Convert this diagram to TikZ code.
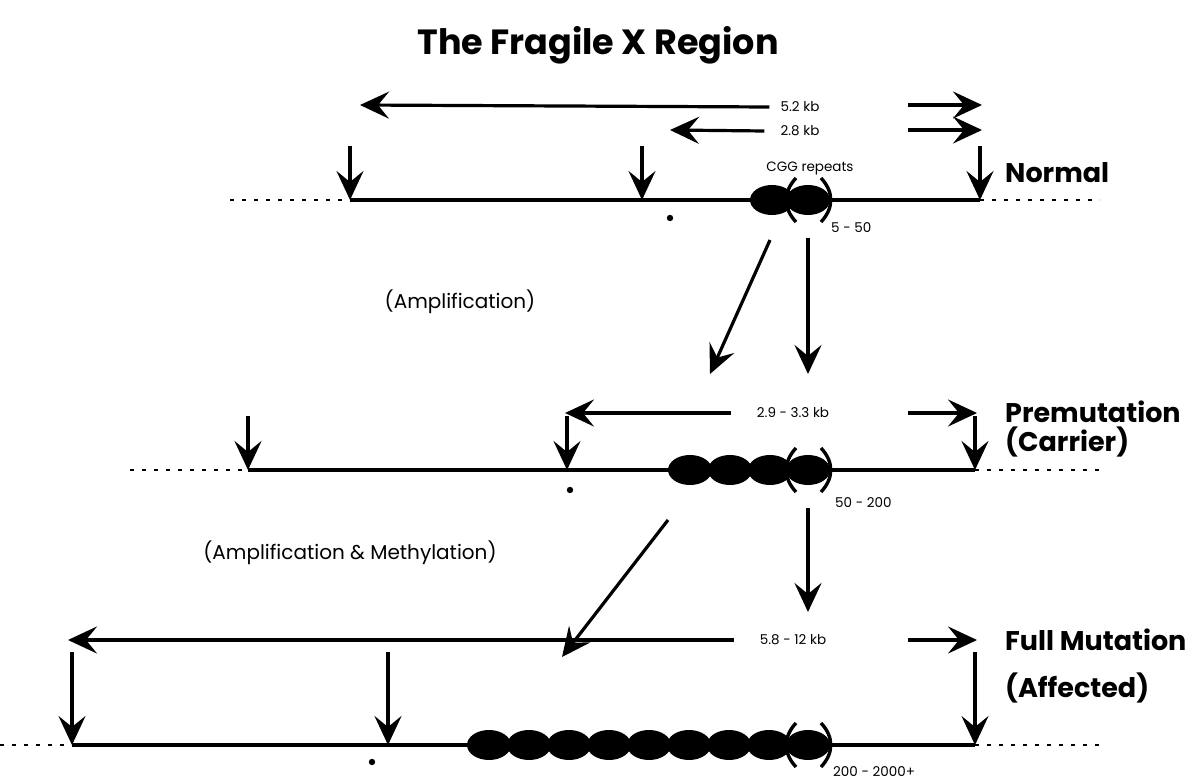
\documentclass[tikz,border=0pt]{standalone}
\usepackage{fontspec}
\setmainfont{Poppins}
\usetikzlibrary{arrows.meta}
\begin{document}
\begin{tikzpicture}[x=1pt,y=-1pt,
  dna/.style={line width=3.2pt},
  dots/.style={line width=2.8pt, dash pattern=on 4pt off 8pt},
  arr/.style={line width=3.2pt,-{Stealth[length=29pt,width=27pt,inset=11pt]}},
  oval/.style={fill=black},
  paren/.style={line width=3.4pt},
  kb/.style={font=\fontsize{13.5}{15}\selectfont, inner sep=1pt},
  stage/.style={font=\fontsize{27}{30}\selectfont\bfseries, anchor=west, inner sep=0pt},
  proc/.style={font=\fontsize{20}{24}\selectfont, inner sep=1pt},
  title/.style={font=\fontsize{35}{40}\selectfont\bfseries, inner sep=0pt}
]
\useasboundingbox (0,0) rectangle (1192,781);
\fill[white] (0,0) rectangle (1192,781);

\node[title] (ttl) at (598,45) {The Fragile X Region};

% ---------------- Row 1: Normal ----------------
\coordinate (r1L) at (230,200); \coordinate (r1a) at (350,200);
\coordinate (r1m) at (642,200); \coordinate (r1b) at (980,200);
\coordinate (r1R) at (1100,200);
\draw[dots] (r1L) -- (r1a);
\draw[dna] (r1a) -- (r1b);
\draw[dots] (r1b) -- (r1R);
\foreach \cx in {772,808} \fill[oval] (\cx,200) ellipse (22 and 15);
\draw[paren] (796,178) .. controls (783,192) and (783,208) .. (796,222);
\draw[paren] (821,178) .. controls (834,192) and (834,208) .. (821,222);
\coordinate (d1a) at (350,146); \coordinate (d1m) at (642,146); \coordinate (d1b) at (980,146);
\draw[arr] (d1a) -- (r1a);
\draw[arr] (d1m) -- (r1m);
\draw[arr] (d1b) -- (r1b);
\fill (670,218) circle (3.2);
\node[kb] (k52) at (800,107) {5.2 kb};
\node[kb] (k28) at (800,131) {2.8 kb};
\node[kb] (cgg) at (810,168) {CGG repeats};
\node[kb,anchor=west] (n1) at (830,228) {5 - 50};
\coordinate (a1L) at (360,105); \coordinate (a1s) at (908,105); \coordinate (a1R) at (982,105);
\coordinate (a2L) at (670,130); \coordinate (a2s) at (908,130); \coordinate (a2R) at (982,130);
\draw[arr] ([xshift=-10pt]k52.west) -- (a1L);
\draw[arr] (a1s) -- (a1R);
\draw[arr] ([xshift=-15pt]k28.west) -- (a2L);
\draw[arr] (a2s) -- (a2R);
\node[stage] (normal) at (1005,173) {Normal};

% transitions 1
\coordinate (t1s) at (770,240); \coordinate (t1e) at (710,374);
\coordinate (v1s) at (808,238); \coordinate (v1e) at (808,374);
\draw[arr] (t1s) -- (t1e);
\draw[arr] (v1s) -- (v1e);
\node[proc] (amp1) at (460,302) {(Amplification)};

% ---------------- Row 2: Premutation ----------------
\coordinate (r2L) at (130,470); \coordinate (r2a) at (248,470);
\coordinate (r2m) at (567,470); \coordinate (r2b) at (975,470);
\coordinate (r2R) at (1100,470);
\draw[dots] (r2L) -- (r2a);
\draw[dna] (r2a) -- (r2b);
\draw[dots] (r2b) -- (r2R);
\foreach \cx in {690,730,770,808} \fill[oval] (\cx,470) ellipse (22 and 15);
\draw[paren] (796,448) .. controls (783,462) and (783,478) .. (796,492);
\draw[paren] (821,448) .. controls (834,462) and (834,478) .. (821,492);
\coordinate (d2a) at (248,416); \coordinate (d2m) at (567,416); \coordinate (d2b) at (975,416);
\draw[arr] (d2a) -- (r2a);
\draw[arr] (d2m) -- (r2m);
\draw[arr] (d2b) -- (r2b);
\fill (570,490) circle (3.2);
\node[kb] (k29) at (793,413) {2.9 - 3.3 kb};
\node[kb,anchor=west] (n2) at (834,503) {50 - 200};
\coordinate (b1L) at (565,413); \coordinate (b1s) at (908,413); \coordinate (b1R) at (977,413);
\draw[arr] ([xshift=-25pt]k29.west) -- (b1L);
\draw[arr] (b1s) -- (b1R);
\node[stage] (prem) at (1005,412) {Premutation};
\node[stage] (carr) at (1005,442) {(Carrier)};

% transitions 2
\coordinate (t2s) at (668,520); \coordinate (t2e) at (562,657);
\coordinate (v2s) at (808,508); \coordinate (v2e) at (808,612);
\draw[arr] (t2s) -- (t2e);
\draw[arr] (v2s) -- (v2e);
\node[proc] (amp2) at (350,553) {(Amplification \& Methylation)};

% ---------------- Row 3: Full Mutation ----------------
\coordinate (r3L) at (0,745); \coordinate (r3a) at (72,745);
\coordinate (r3m) at (388,745); \coordinate (r3b) at (975,745);
\coordinate (r3R) at (1100,745);
\draw[dots] (r3L) -- (r3a);
\draw[dna] (r3a) -- (r3b);
\draw[dots] (r3b) -- (r3R);
\foreach \cx in {489,529,569,609,649,689,729,769,808} \fill[oval] (\cx,745) ellipse (22 and 15);
\draw[paren] (796,723) .. controls (783,737) and (783,753) .. (796,767);
\draw[paren] (821,723) .. controls (834,737) and (834,753) .. (821,767);
\coordinate (d3a) at (72,652); \coordinate (d3m) at (388,652); \coordinate (d3b) at (975,652);
\draw[arr] (d3a) -- (r3a);
\draw[arr] (d3m) -- (r3m);
\draw[arr] (d3b) -- (r3b);
\fill (372,762) circle (3.2);
\node[kb] (k58) at (793,640) {5.8 - 12 kb};
\node[kb,anchor=west] (n3) at (832,772) {200 - 2000+};
\coordinate (c1L) at (68,640); \coordinate (c1s) at (908,640); \coordinate (c1R) at (977,640);
\draw[arr] ([xshift=-25pt]k58.west) -- (c1L);
\draw[arr] (c1s) -- (c1R);
\node[stage] (full) at (1005,640) {Full Mutation};
\node[stage] (aff) at (1005,688) {(Affected)};
\end{tikzpicture}
\end{document}
